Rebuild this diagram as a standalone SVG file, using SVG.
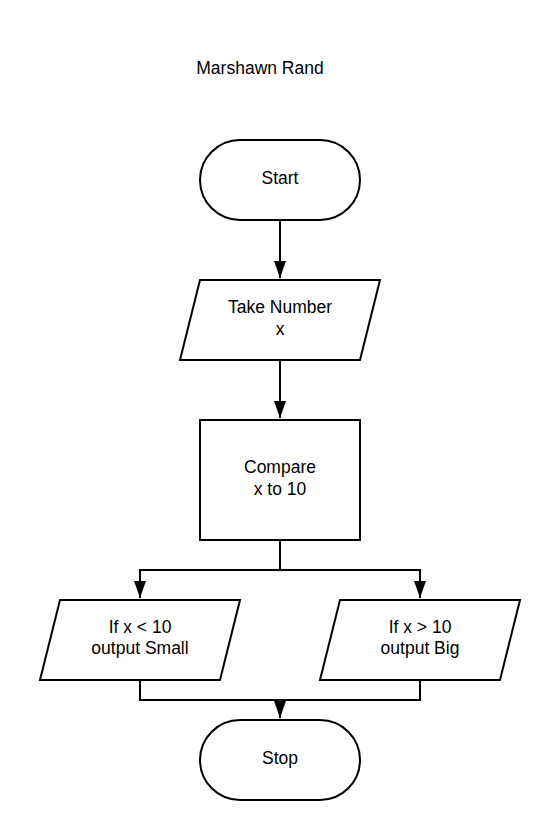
<svg xmlns="http://www.w3.org/2000/svg" width="560" height="840" viewBox="0 0 560 840">
  <style>
    .shape { fill: #ffffff; stroke: #000000; stroke-width: 2; }
    .wire { fill: none; stroke: #000000; stroke-width: 2; }
    .label { font-family: "Liberation Sans", Arial, sans-serif; font-size: 17.5px; fill: #000000; text-anchor: middle; }
  </style>
  <defs>
    <marker id="arrow" markerWidth="17" markerHeight="12" refX="17" refY="6" orient="auto" markerUnits="userSpaceOnUse" viewBox="0 0 17 12">
      <path d="M0,0 L17,6 L0,12 Z" fill="#000000"/>
    </marker>
  </defs>
  <rect width="560" height="840" fill="#ffffff"/>

  <text class="label" x="260" y="74">Marshawn Rand</text>

  <g id="connectors">
    <path class="wire" d="M280,220 V278" marker-end="url(#arrow)"/>
    <path class="wire" d="M280,360 V418" marker-end="url(#arrow)"/>
    <path class="wire" d="M280,540 V570 H140 V598" marker-end="url(#arrow)"/>
    <path class="wire" d="M280,570 H420 V598" marker-end="url(#arrow)"/>
    <path class="wire" d="M140,680 V700 H420 V680"/>
    <path class="wire" d="M280,700 V718" marker-end="url(#arrow)"/>
  </g>

  <g id="start">
    <rect class="shape" x="200" y="140" width="160" height="80" rx="40" ry="40"/>
    <text class="label" x="280" y="184">Start</text>
  </g>

  <g id="take-number">
    <polygon class="shape" points="200,280 380,280 360,360 180,360"/>
    <text class="label" x="280" y="313">Take Number</text>
    <text class="label" x="280" y="335">x</text>
  </g>

  <g id="compare">
    <rect class="shape" x="200" y="420" width="160" height="120"/>
    <text class="label" x="280" y="473">Compare</text>
    <text class="label" x="280" y="495">x to 10</text>
  </g>

  <g id="output-small">
    <polygon class="shape" points="60,600 240,600 220,680 40,680"/>
    <text class="label" x="140" y="633">If x &lt; 10</text>
    <text class="label" x="140" y="654">output Small</text>
  </g>

  <g id="output-big">
    <polygon class="shape" points="340,600 520,600 500,680 320,680"/>
    <text class="label" x="420" y="633">If x &gt; 10</text>
    <text class="label" x="420" y="654">output Big</text>
  </g>

  <g id="stop">
    <rect class="shape" x="200" y="720" width="160" height="80" rx="40" ry="40"/>
    <text class="label" x="280" y="764">Stop</text>
  </g>
</svg>
